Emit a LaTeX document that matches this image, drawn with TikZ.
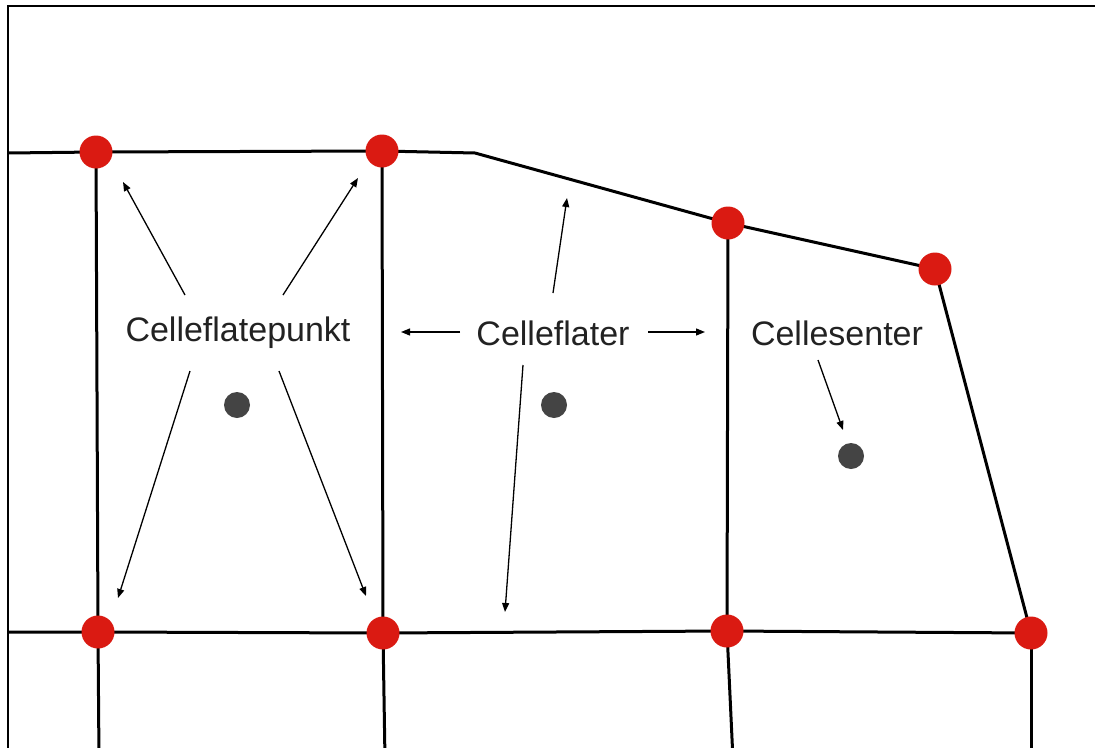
\documentclass[tikz,border=0pt]{standalone}
\usepackage{fontspec}
\setmainfont{Liberation Sans}
\usetikzlibrary{arrows.meta}
\definecolor{vertexred}{HTML}{DA1A12}
\definecolor{centregray}{HTML}{444444}
\definecolor{labelgray}{HTML}{222222}
\begin{document}
\begin{tikzpicture}[x=1pt,y=-1pt,
  grid/.style={line width=3pt,black},
  frameline/.style={line width=2.2pt,black},
  pointer/.style={line width=1.3pt,-{Triangle[length=9pt,width=7pt]}},
  vertex/.style={circle,fill=vertexred,inner sep=0pt,minimum size=33pt},
  centre/.style={circle,fill=centregray,inner sep=0pt,minimum size=26pt},
  lbl/.style={text=labelgray,font=\fontsize{34}{40}\selectfont,inner sep=0pt}]
\useasboundingbox (0,0) rectangle (1095,747);
\begin{scope}
\clip (0,0) rectangle (1095,747);
% open frame: top and left edges
\draw[frameline] (1100,6) -- (8,6) -- (8,750);

% cell corners
\coordinate (L1) at (8,153);
\coordinate (A1) at (96,152);
\coordinate (A2) at (382,151);
\coordinate (K)  at (475,153);
\coordinate (A3) at (728,223);
\coordinate (A4) at (935,269);
\coordinate (L2) at (8,632);
\coordinate (B1) at (98,632);
\coordinate (B2) at (383,633);
\coordinate (B3) at (727,631);
\coordinate (B4) at (1031,633);
\coordinate (D1) at (99,760);
\coordinate (D2) at (385,760);
\coordinate (D3) at (733,760);
\coordinate (D4) at (1031,760);

% cell faces
\draw[grid] (L1) -- (A1) -- (A2) -- (K) -- (A3) -- (A4) -- (B4);
\draw[grid] (L2) -- (B1) -- (B2) -- (B3) -- (B4);
\draw[grid] (A1) -- (B1) -- (D1);
\draw[grid] (A2) -- (B2) -- (D2);
\draw[grid] (A3) -- (B3) -- (D3);
\draw[grid] (B4) -- (D4);
\end{scope}

% face vertices
\foreach \p in {A1,A2,A3,A4,B1,B2,B3,B4}
  \node[vertex] (v\p) at (\p) {};

% cell centres
\node[centre] (c1) at (237,405) {};
\node[centre] (c2) at (554,405) {};
\node[centre] (c3) at (851,456) {};

% labels
\node[lbl] (punkt) at (238,333) {Celleflatepunkt};
\node[lbl] (flater) at (553,333) {Celleflater};
\node[lbl] (senter) at (837,333) {Cellesenter};

% arrow ends
\coordinate (p1s) at (185,295); \coordinate (p1e) at (123,182);
\coordinate (p2s) at (283,295); \coordinate (p2e) at (358,178);
\coordinate (p3s) at (190,371); \coordinate (p3e) at (118,598);
\coordinate (p4s) at (279,371); \coordinate (p4e) at (366,596);
\coordinate (f1s) at (460,332); \coordinate (f1e) at (401,332);
\coordinate (f2s) at (648,332); \coordinate (f2e) at (705,332);
\coordinate (f3s) at (553,293); \coordinate (f3e) at (567,198);
\coordinate (f4s) at (523,365); \coordinate (f4e) at (505,612);
\coordinate (s1s) at (818,360); \coordinate (s1e) at (843,430);

\draw[pointer] (p1s) -- (p1e);
\draw[pointer] (p2s) -- (p2e);
\draw[pointer] (p3s) -- (p3e);
\draw[pointer] (p4s) -- (p4e);
\draw[pointer] (f1s) -- (f1e);
\draw[pointer] (f2s) -- (f2e);
\draw[pointer] (f3s) -- (f3e);
\draw[pointer] (f4s) -- (f4e);
\draw[pointer] (s1s) -- (s1e);
\end{tikzpicture}
\end{document}
